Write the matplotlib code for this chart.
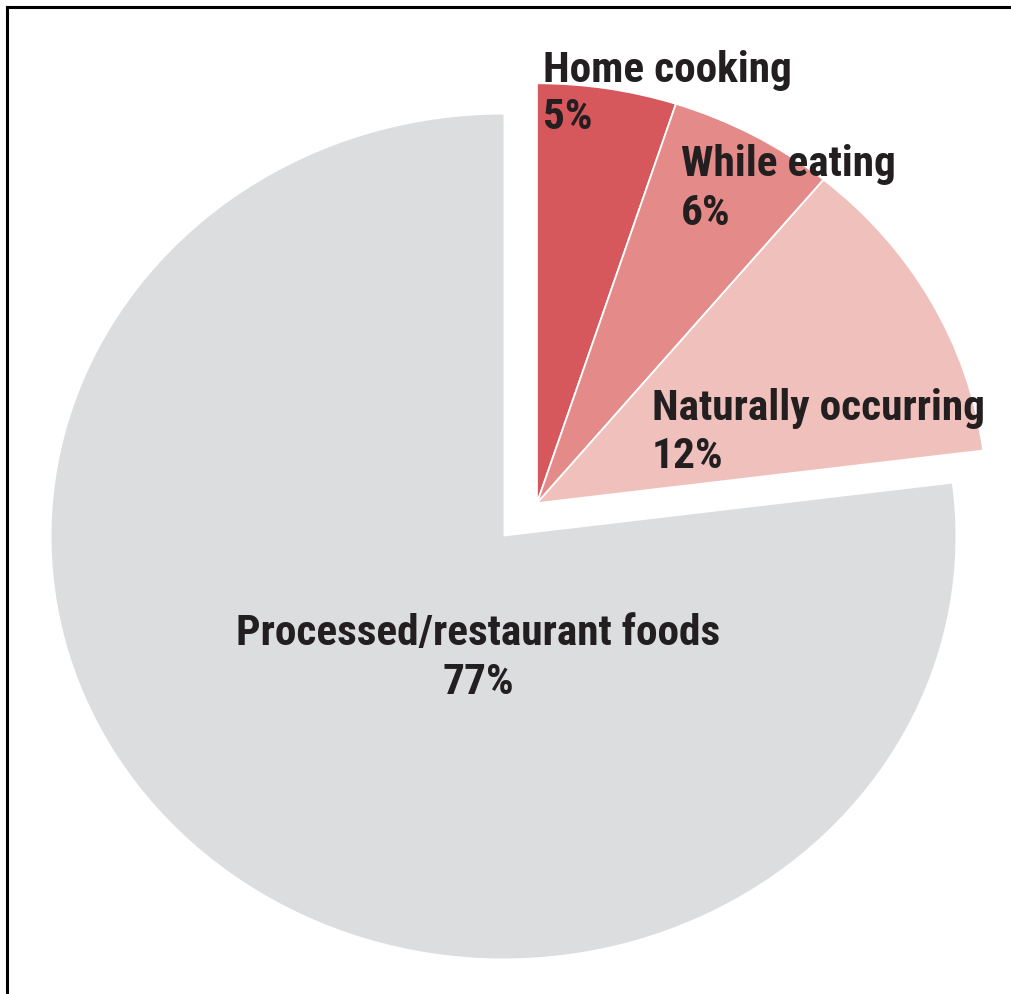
import matplotlib.pyplot as plt
from matplotlib import font_manager

# sources of sodium, share in percent
labels = ["Home cooking", "While eating", "Naturally occurring", "Processed/restaurant foods"]
values = [5, 6, 12, 77]
colors = ["#d6585c", "#e48a88", "#f0c1bc", "#dcdddf"]

W, H = 1012, 994
fig = plt.figure(figsize=(W / 100, H / 100), dpi=100)
ax = fig.add_axes([0, 0, 1, 1])

total = sum(values)
red_frac = [v / total for v in values[:3]]
gray_frac = [values[3] / total]

# the three small slices are pulled out together toward the upper right
ax.pie(red_frac, colors=colors[:3], startangle=90, counterclock=False,
       normalize=False, radius=0.995, center=(0.074, 0.079),
       wedgeprops=dict(edgecolor="white", linewidth=1.3))
ax.pie(gray_frac, colors=colors[3:], startangle=90 - sum(red_frac) * 360,
       counterclock=False, normalize=False, radius=1.0,
       wedgeprops=dict(linewidth=0))

# the original picture is a little stretched sideways
ax.set_aspect("auto")
ax.set_xlim(-503.5 / 452, (W - 503.5) / 452)
ax.set_ylim(-457.5 / 422, (H - 457.5) / 422)
ax.axis("off")

# a narrow bold face if one is around
names = {f.name for f in font_manager.fontManager.ttflist}
family = "DejaVu Sans"
for cand in ["Liberation Sans Narrow", "Roboto Condensed", "Open Sans Condensed"]:
    if cand in names:
        family = cand
        break

font = dict(family=[family, "DejaVu Sans"], weight=900, stretch="condensed",
            color="#231f20", fontsize=30, va="baseline")

texts = []


def put(x, y, s, **kw):
    t = fig.text(x / W, 1 - y / H, s, **font, **kw)
    texts.append(t)
    return t


put(543, 82, labels[0])
put(543, 129, f"{values[0]}%")
put(681, 176, labels[1])
put(681, 225, f"{values[1]}%")
put(652, 420, labels[2])
put(652, 468, f"{values[2]}%")
big = put(478, 645, labels[3], ha="center")
put(478, 694, f"{values[3]}%", ha="center")

# size the lettering so the long label is as wide as in the reference
r = fig.canvas.get_renderer()
w = big.get_window_extent(r).width
size = min(30 * 486 / w, 33)
for t in texts:
    t.set_fontsize(size)

# frame: only top and left edges show in the reference
fig.add_artist(plt.Line2D([7 / W, 7 / W], [0, 1 - 7 / H], color="black", lw=2.2))
fig.add_artist(plt.Line2D([7 / W, 1], [1 - 7 / H, 1 - 7 / H], color="black", lw=2.2))

fig.savefig("out.png", dpi=100, facecolor="white")
